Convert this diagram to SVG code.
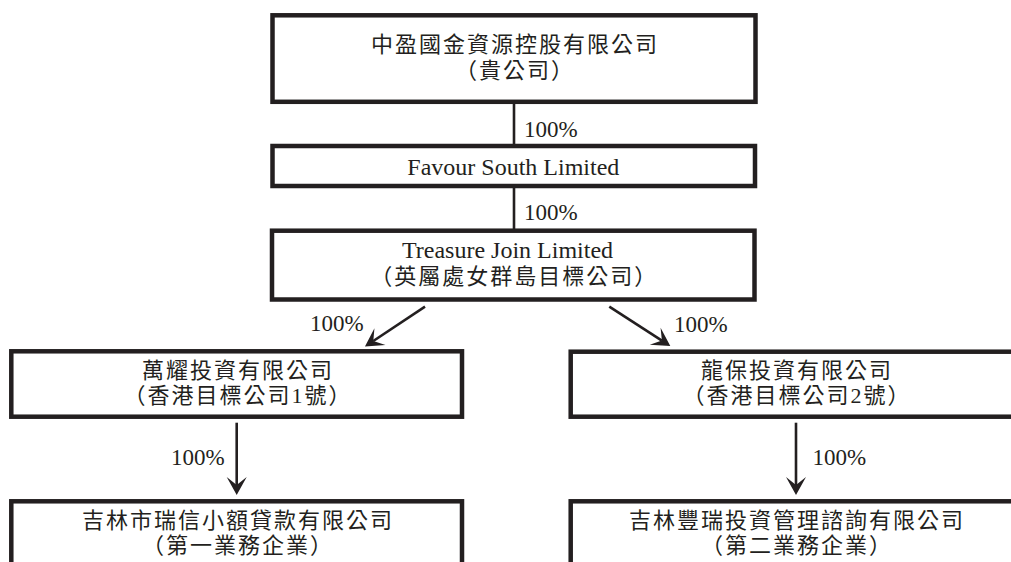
<svg xmlns="http://www.w3.org/2000/svg" width="1011" height="562" viewBox="0 0 1011 562">
<style>
.box{fill:#fff;stroke:#231f20;stroke-width:4.5}
.con{fill:none;stroke:#231f20;stroke-width:2.6}
.t{font-family:"Liberation Serif","Noto Sans CJK TC",serif;fill:#231f20;text-anchor:middle}
.en{font-size:24px}
.cj{font-size:22px;letter-spacing:2px}
.pc{font-family:"Liberation Serif",serif;font-size:23px;fill:#231f20}
</style>
<defs>
<marker id="ah" markerUnits="userSpaceOnUse" markerWidth="24" markerHeight="24" refX="8" refY="0" viewBox="0 -12 20 24" orient="auto" overflow="visible">
<path d="M18 0 L0 -10 L8 0 L0 10 Z" fill="#231f20"/>
</marker>
</defs>
<rect width="1011" height="562" fill="#fff"/>
<g id="connectors">
<line class="con" x1="514" y1="104" x2="514" y2="144"/>
<line class="con" x1="514" y1="188" x2="514" y2="229"/>
<line class="con" x1="425" y1="306.7" x2="373.3" y2="341" marker-end="url(#ah)"/>
<line class="con" x1="609.3" y1="306.7" x2="661.9" y2="340.6" marker-end="url(#ah)"/>
<line class="con" x1="236.7" y1="422.7" x2="236.7" y2="485" marker-end="url(#ah)"/>
<line class="con" x1="796" y1="422.7" x2="796" y2="485" marker-end="url(#ah)"/>
<text class="pc" x="524" y="137">100%</text>
<text class="pc" x="524" y="220">100%</text>
<text class="pc" x="310" y="331">100%</text>
<text class="pc" x="674" y="332">100%</text>
<text class="pc" x="171" y="465">100%</text>
<text class="pc" x="812.5" y="465">100%</text>
</g>
<g id="n-parent">
<rect class="box" x="272.5" y="15.3" width="483" height="86.5"/>
<text class="t cj" x="515" y="51.5">中盈國金資源控股有限公司</text>
<text class="t cj" x="515" y="77.5">（貴公司）</text>
</g>
<g id="n-favour">
<rect class="box" x="272.5" y="146" width="482.5" height="40"/>
<text class="t en" x="513.3" y="175">Favour South Limited</text>
</g>
<g id="n-treasure">
<rect class="box" x="272" y="230.7" width="482.5" height="68.8"/>
<text class="t en" x="507.5" y="258">Treasure Join Limited</text>
<text class="t cj" x="514.3" y="284">（英屬處女群島目標公司）</text>
</g>
<g id="n-hk1">
<rect class="box" x="11.3" y="351.3" width="450.7" height="65.4"/>
<text class="t cj" x="238" y="377.5">萬耀投資有限公司</text>
<text class="t cj" x="238" y="403">（香港目標公司1號）</text>
</g>
<g id="n-hk2">
<rect class="box" x="570.7" y="351.7" width="520" height="65"/>
<text class="t cj" x="797" y="377.5">龍保投資有限公司</text>
<text class="t cj" x="797" y="403">（香港目標公司2號）</text>
</g>
<g id="n-op1">
<rect class="box" x="11.3" y="501.3" width="450.7" height="100"/>
<text class="t cj" x="238" y="527.5">吉林市瑞信小額貸款有限公司</text>
<text class="t cj" x="238" y="553">（第一業務企業）</text>
</g>
<g id="n-op2">
<rect class="box" x="570.7" y="501.3" width="520" height="100"/>
<text class="t cj" x="797" y="527.5">吉林豐瑞投資管理諮詢有限公司</text>
<text class="t cj" x="797" y="553">（第二業務企業）</text>
</g>
</svg>
